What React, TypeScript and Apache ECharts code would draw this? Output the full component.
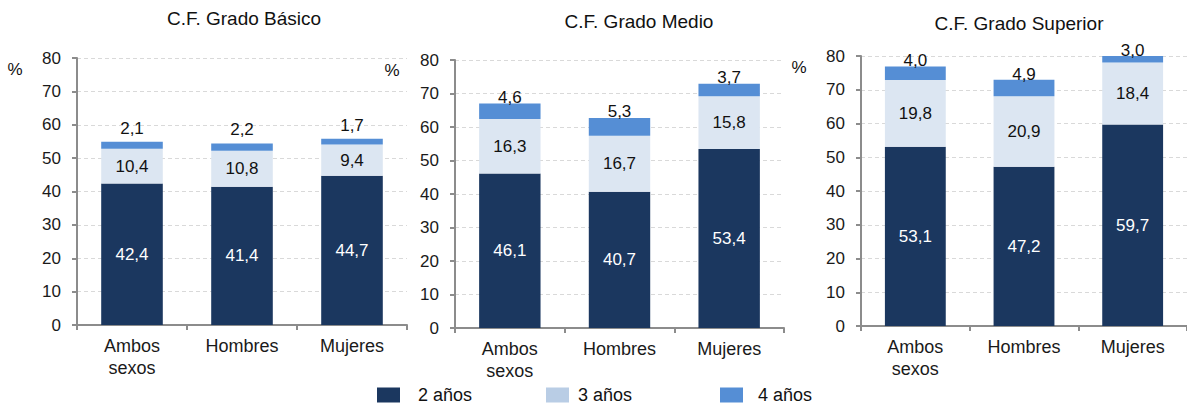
import React, { useEffect, useRef } from "react";
import * as echarts from "echarts";

const categories = ["Ambos\nsexos", "Hombres", "Mujeres"];
const seriesNames = ["2 años", "3 años", "4 años"];
const panelTitles = ["C.F. Grado Básico", "C.F. Grado Medio", "C.F. Grado Superior"];

const basico2 = [42.4, 41.4, 44.7];
const basico3 = [10.4, 10.8, 9.4];
const basico4 = [2.1, 2.2, 1.7];

const medio2 = [46.1, 40.7, 53.4];
const medio3 = [16.3, 16.7, 15.8];
const medio4 = [4.6, 5.3, 3.7];

const superior2 = [53.1, 47.2, 59.7];
const superior3 = [19.8, 20.9, 18.4];
const superior4 = [4.0, 4.9, 3.0];

const yTicks = [0, 10, 20, 30, 40, 50, 60, 70, 80];

const FONT = "'Liberation Sans', Arial, sans-serif";
const C2 = "#1B375F";
const C3 = "#DCE6F2";
const C3_LEG = "#B9CDE5";
const C4 = "#558ED5";

const panels = [
  { d: [basico2, basico3, basico4], left: 77, width: 330, top: 58, bottom: 81, topDist: 5, titleX: 244, titleY: 18, pctX: 15, pctY: 69 },
  { d: [medio2, medio3, medio4], left: 455, width: 329, top: 60, bottom: 78, topDist: -2, titleX: 639, titleY: 21, pctX: 392, pctY: 70 },
  { d: [superior2, superior3, superior4], left: 861, width: 330, top: 56, bottom: 80, topDist: -3, titleX: 1019, titleY: 23, pctX: 799, pctY: 67 },
];

const fmt = (p: any) => Number(p.value).toFixed(1).replace(".", ",");

export default function App() {
  const ref = useRef<HTMLDivElement>(null);
  useEffect(() => {
    document.body.style.margin = "0";
    const chart = echarts.init(ref.current!, null, { renderer: "svg" });
    const grids: any[] = [];
    const xAxes: any[] = [];
    const yAxes: any[] = [];
    const series: any[] = [];
    const graphic: any[] = [];
    panels.forEach((p, i) => {
      grids.push({ left: p.left, width: p.width, top: p.top, bottom: p.bottom, containLabel: false });
      xAxes.push({
        type: "category",
        gridIndex: i,
        data: categories,
        axisLine: { lineStyle: { color: "#8C8C8C", width: 2 } },
        axisTick: { show: true, length: 5, lineStyle: { color: "#8C8C8C", width: 2 } },
        axisLabel: { color: "#1a1a1a", fontFamily: FONT, fontSize: 18, lineHeight: 22, margin: 10 },
      });
      yAxes.push({
        type: "value",
        gridIndex: i,
        min: yTicks[0],
        max: yTicks[yTicks.length - 1],
        interval: 10,
        axisLine: { show: true, lineStyle: { color: "#8C8C8C", width: 2 } },
        axisTick: { show: true, length: 5, lineStyle: { color: "#8C8C8C", width: 2 } },
        axisLabel: { color: "#1a1a1a", fontFamily: FONT, fontSize: 17, margin: 16 },
        splitLine: { show: true, lineStyle: { color: "#D9D9D9", type: [4, 3], width: 1 } },
      });
      const colors = [C2, C3, C4];
      p.d.forEach((vals, k) => {
        series.push({
          type: "bar",
          name: seriesNames[k],
          stack: "s" + i,
          xAxisIndex: i,
          yAxisIndex: i,
          data: vals,
          barWidth: "56%",
          clip: true,
          itemStyle: { color: colors[k] },
          label: {
            show: true,
            position: k === 2 ? "top" : "inside",
            distance: k === 2 ? p.topDist : 5,
            color: k === 0 ? "#ffffff" : "#111111",
            fontFamily: FONT,
            fontSize: 17,
            formatter: fmt,
          },
        });
      });
      graphic.push({
        type: "text",
        x: p.titleX,
        y: p.titleY,
        style: { text: panelTitles[i], fontFamily: FONT, fontSize: 19, fill: "#111", align: "center", verticalAlign: "middle" },
      });
      graphic.push({
        type: "text",
        x: p.pctX,
        y: p.pctY,
        style: { text: "%", fontFamily: FONT, fontSize: 17, fill: "#111", align: "center", verticalAlign: "middle" },
      });
    });
    const legPos = [
      { left: 377, pad: 13 },
      { left: 546, pad: 4 },
      { left: 720, pad: 10 },
    ];
    const legendColors = [C2, C3_LEG, C4];
    const legends = seriesNames.map((n, k) => ({
      left: legPos[k].left,
      top: 386,
      itemWidth: 23,
      itemHeight: 15,
      padding: 0,
      icon: "rect",
      selectedMode: false,
      data: [{ name: n, itemStyle: { color: legendColors[k] } }],
      textStyle: { fontFamily: FONT, fontSize: 18, color: "#111", padding: [0, 0, 0, legPos[k].pad] },
    }));
    chart.setOption({
      animation: false,
      backgroundColor: "#ffffff",
      grid: grids,
      xAxis: xAxes,
      yAxis: yAxes,
      series,
      legend: legends,
      graphic,
    });
    return () => chart.dispose();
  }, []);
  return <div ref={ref} style={{ width: 1187, height: 406 }} />;
}
